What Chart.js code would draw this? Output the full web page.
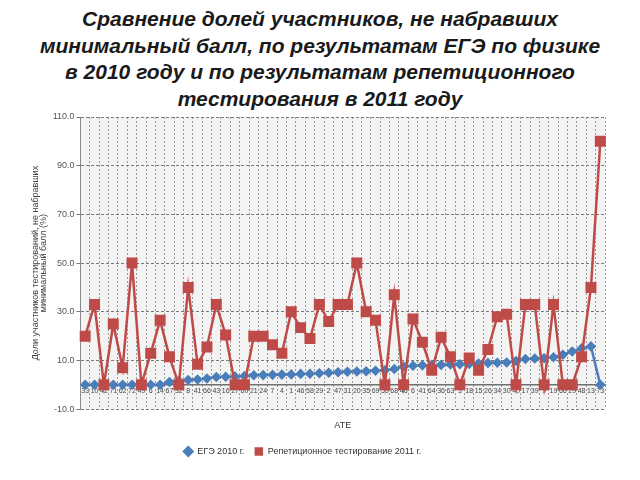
<!DOCTYPE html>
<html>
<head>
<meta charset="utf-8">
<script src="https://cdn.jsdelivr.net/npm/chart.js"></script>
<style>
  html, body { margin: 0; padding: 0; background: #fff; width: 640px; height: 480px; overflow: hidden; }
  #title {
    position: absolute; left: 0; top: 6px; width: 640px; text-align: center;
    font: italic bold 21px "Liberation Sans", sans-serif; line-height: 26.5px; color: #1a1a1a;
  }
  #wrap { position: absolute; left: 0; top: 104px; width: 640px; height: 376px; }
</style>
</head>
<body>
<div id="title">Сравнение долей участников, не набравших<br>минимальный балл, по результатам ЕГЭ по физике<br>в 2010 году и по результатам репетиционного<br>тестирования в 2011 году</div>
<div id="wrap"><canvas id="chart"></canvas></div>
<script>
// ATE codes along the x axis
const ateLabels = ["33","10","42","71","62","72","49","6","14","67",
  "32","8","41","66","43","16","27","60","21","24",
  "7","4","1","46","58","29","2","47","31","20",
  "35","69","59","68","46","6","41","64","36","63",
  "3","18","15","26","34","30","40","17","39","9",
  "19","66","29","48","13","73"];

// ЕГЭ 2010 г.
const ege2010 = [0, 0, 0, 0, 0, 0, 0, 0, 0, 1.2,
  1.6, 2.0, 2.2, 2.6, 3.2, 3.3, 3.4, 3.6, 3.9, 4.0,
  4.1, 4.2, 4.3, 4.5, 4.6, 4.8, 5.0, 5.2, 5.4, 5.5,
  5.6, 5.8, 6.0, 6.5, 7.5, 7.8, 8.0, 8.1, 8.2, 8.4,
  8.5, 8.6, 8.8, 9.0, 9.1, 9.2, 9.8, 10.6, 10.8, 10.9,
  11.3, 12.4, 13.7, 15.0, 15.8, 0];

// Репетиционное тестирование 2011 г.
const rep2011 = [20, 33, 0, 25, 7, 50, 0, 13, 26.5, 11.5,
  0, 40, 8.5, 15.5, 33, 20.5, 0, 0, 20, 20,
  16.5, 13, 30, 23.5, 19, 33, 26, 33, 33, 50,
  30, 26.5, 0, 37, 0, 27, 17.5, 6, 19.5, 11.5,
  0, 11, 6, 14.5, 28, 29, 0, 33, 33, 0,
  33, 0, 0, 11.5, 40, 100];

const yMin = -10, yMax = 110, yStep = 20;

const plotBg = {
  id: 'plotBg',
  beforeDraw(chart) {
    const { ctx, chartArea: a } = chart;
    ctx.save();
    ctx.fillStyle = '#f3f3f3';
    ctx.fillRect(a.left, a.top, a.right - a.left, a.bottom - a.top);
    ctx.restore();
  }
};

new Chart(document.getElementById('chart'), {
  type: 'line',
  data: {
    labels: ateLabels,
    datasets: [
      {
        label: 'ЕГЭ 2010 г.',
        data: ege2010,
        borderColor: '#4A7EBB',
        backgroundColor: '#4A7EBB',
        borderWidth: 2.5,
        pointStyle: 'rectRot',
        pointRadius: 3.5,
        order: 1
      },
      {
        label: 'Репетиционное тестирование 2011 г.',
        data: rep2011,
        borderColor: '#BE4B48',
        backgroundColor: '#BE4B48',
        borderWidth: 2.5,
        pointStyle: 'rect',
        pointRadius: 6,
        order: 0
      }
    ]
  },
  options: {
    responsive: true,
    maintainAspectRatio: false,
    animation: false,
    layout: { padding: { left: 0, right: 35, top: 13, bottom: 14 } },
    plugins: {
      legend: {
        position: 'bottom',
        reverse: true,
        labels: {
          usePointStyle: true,
          boxHeight: 6,
          padding: 10,
          color: '#333',
          font: { family: 'Liberation Sans', size: 9 }
        }
      },
      tooltip: { enabled: false }
    },
    scales: {
      x: {
        type: 'category',
        position: { y: 0 },
        offset: true,
        grid: { offset: true, color: '#9a9a9a', drawTicks: false },
        border: { color: '#707070', width: 1.5, dash: [2, 2] },
        ticks: {
          autoSkip: false, maxRotation: 0, minRotation: 0, padding: 2,
          color: '#444', font: { family: 'Liberation Sans', size: 7 }
        }
      },
      x2: {
        type: 'category',
        position: 'bottom',
        labels: ateLabels,
        grid: { display: false },
        border: { display: false },
        ticks: { display: false },
        title: {
          display: true, text: 'АТЕ', color: '#333',
          padding: { top: 3, bottom: 6 },
          font: { family: 'Liberation Sans', size: 9 }
        }
      },
      y: {
        min: yMin,
        max: yMax,
        ticks: {
          stepSize: yStep, padding: 2, color: '#555',
          font: { family: 'Liberation Sans', size: 9 },
          callback: (v) => v.toFixed(1)
        },
        grid: { color: '#7a7a7a', tickLength: 4 },
        border: { color: '#8a8a8a', width: 1, dash: [3, 2] },
        title: {
          display: true,
          text: ['Доли участников тестирований, не набравших', 'минимальный балл (%)'],
          color: '#444',
          padding: { top: 31, bottom: 0 },
          font: { family: 'Liberation Sans', size: 9, lineHeight: 0.95 }
        },
        afterFit(scale) { scale.width = 80.5; }
      }
    }
  },
  plugins: [plotBg]
});
</script>
</body>
</html>
